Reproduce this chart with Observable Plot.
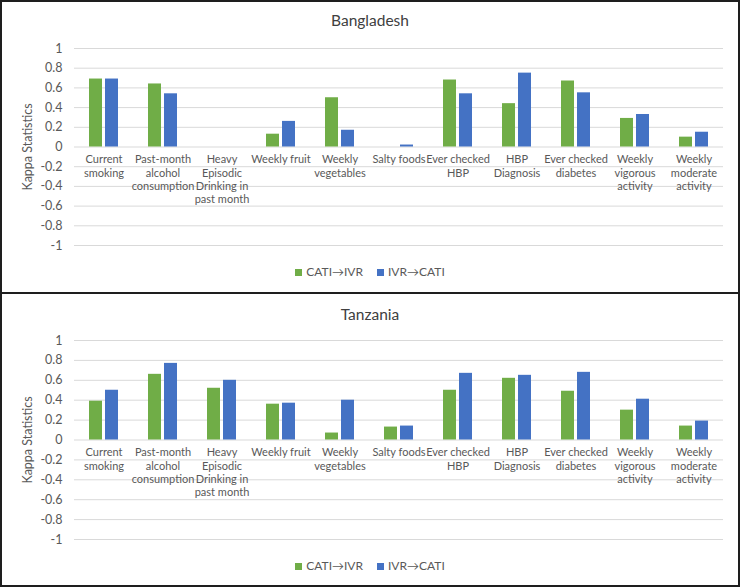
<!DOCTYPE html>
<html>
<head>
<meta charset="utf-8">
<script src="https://cdn.jsdelivr.net/npm/d3@7"></script>
<script src="https://cdn.jsdelivr.net/npm/@observablehq/plot@0.6"></script>
<style>
  html, body { margin: 0; padding: 0; background: #fff; }
  #frame { width: 740px; height: 587px; box-sizing: border-box; border: 2px solid #1e1e1e; font-family: Lato, "Open Sans", sans-serif; }
  .panel { position: relative; overflow: hidden; }
  #p1 { height: 290px; }
  #p2 { height: 289px; border-top: 2px solid #1e1e1e; }
  .title { text-align: center; color: #404040; font-size: 15.5px; }
  #p1 .title { height: 36px; line-height: 36px; }
  #p2 .title { height: 40px; line-height: 40px; }
  .legend { height: 30px; line-height: 30px; text-align: center; color: #595959; font-size: 12px; }
  .legend span.item { display: inline-block; margin: 0 7px; }
  .legend span.sw { display: inline-block; width: 7px; height: 7px; margin-right: 4px; vertical-align: 0px; }
  svg { display: block; }
</style>
</head>
<body>
<div id="frame">
  <div class="panel" id="p1"><div class="title">Bangladesh</div><div class="chart"></div><div class="legend"></div></div>
  <div class="panel" id="p2"><div class="title">Tanzania</div><div class="chart"></div><div class="legend"></div></div>
</div>
<script>
const categories = ["Current smoking", "Past-month alcohol consumption", "Heavy Episodic Drinking in past month", "Weekly fruit", "Weekly vegetables", "Salty foods", "Ever checked HBP", "HBP Diagnosis", "Ever checked diabetes", "Weekly vigorous activity", "Weekly moderate activity"];
const categoryLabels = ["Current\nsmoking", "Past-month\nalcohol\nconsumption", "Heavy\nEpisodic\nDrinking in\npast month", "Weekly fruit", "Weekly\nvegetables", "Salty foods", "Ever checked\nHBP", "HBP\nDiagnosis", "Ever checked\ndiabetes", "Weekly\nvigorous\nactivity", "Weekly\nmoderate\nactivity"];
const series = ["CATI\u2192IVR", "IVR\u2192CATI"];
const seriesColors = ["#70AD47", "#4472C4"];

const bangladeshCatiIvr = [0.69, 0.64, null, 0.13, 0.50, 0, 0.68, 0.44, 0.67, 0.29, 0.10];
const bangladeshIvrCati = [0.69, 0.54, null, 0.26, 0.17, 0.02, 0.54, 0.75, 0.55, 0.33, 0.15];
const tanzaniaCatiIvr = [0.39, 0.66, 0.52, 0.36, 0.07, 0.13, 0.50, 0.62, 0.49, 0.30, 0.14];
const tanzaniaIvrCati = [0.50, 0.77, 0.60, 0.37, 0.40, 0.14, 0.67, 0.65, 0.68, 0.41, 0.19];

const yTicks = [1, 0.8, 0.6, 0.4, 0.2, 0, -0.2, -0.4, -0.6, -0.8, -1];
const yLabel = "Kappa Statistics";

function makeRows(a, b) {
  const rows = [];
  categories.forEach((c, i) => {
    rows.push({category: c, series: series[0], value: a[i]});
    rows.push({category: c, series: series[1], value: b[i]});
  });
  return rows;
}

function chart(rows, opts) {
  return Plot.plot({
    width: 736,
    height: opts.height,
    marginLeft: 70,
    marginRight: 13,
    marginTop: opts.marginTop,
    marginBottom: 12,
    style: {fontFamily: "Lato, 'Open Sans', sans-serif", fontSize: "12.5px", color: "#595959", background: "white", overflow: "visible"},
    fx: {domain: categories, padding: 0, axis: null},
    x: {domain: series, paddingInner: 0.18, paddingOuter: 0.89, axis: null},
    y: {domain: [-1, 1], ticks: yTicks, tickFormat: d => String(d), tickSize: 0, tickPadding: 12,
        label: yLabel, labelAnchor: "center", labelOffset: 51, labelArrow: "none"},
    color: {domain: series, range: seriesColors},
    marks: [
      Plot.ruleY(yTicks, {stroke: "#d9d9d9", strokeWidth: 1}),
      Plot.barY(rows, {fx: "category", x: "series", y: "value", fill: "series"}),
      Plot.text(categories, {fx: d => d, y: 0, text: (d, i) => categoryLabels[i], lineAnchor: "top", dy: 7, fontSize: 11, fill: "#595959", lineHeight: 1.2})
    ]
  });
}

function legend(el) {
  el.innerHTML = series.map((s, i) => `<span class="item"><span class="sw" style="background:${seriesColors[i]}"></span>${s}</span>`).join("");
}

document.querySelector("#p1 .chart").append(chart(makeRows(bangladeshCatiIvr, bangladeshIvrCati), {height: 219, marginTop: 10}));
document.querySelector("#p2 .chart").append(chart(makeRows(tanzaniaCatiIvr, tanzaniaIvrCati), {height: 217, marginTop: 6}));
legend(document.querySelector("#p1 .legend"));
legend(document.querySelector("#p2 .legend"));
</script>
</body>
</html>
